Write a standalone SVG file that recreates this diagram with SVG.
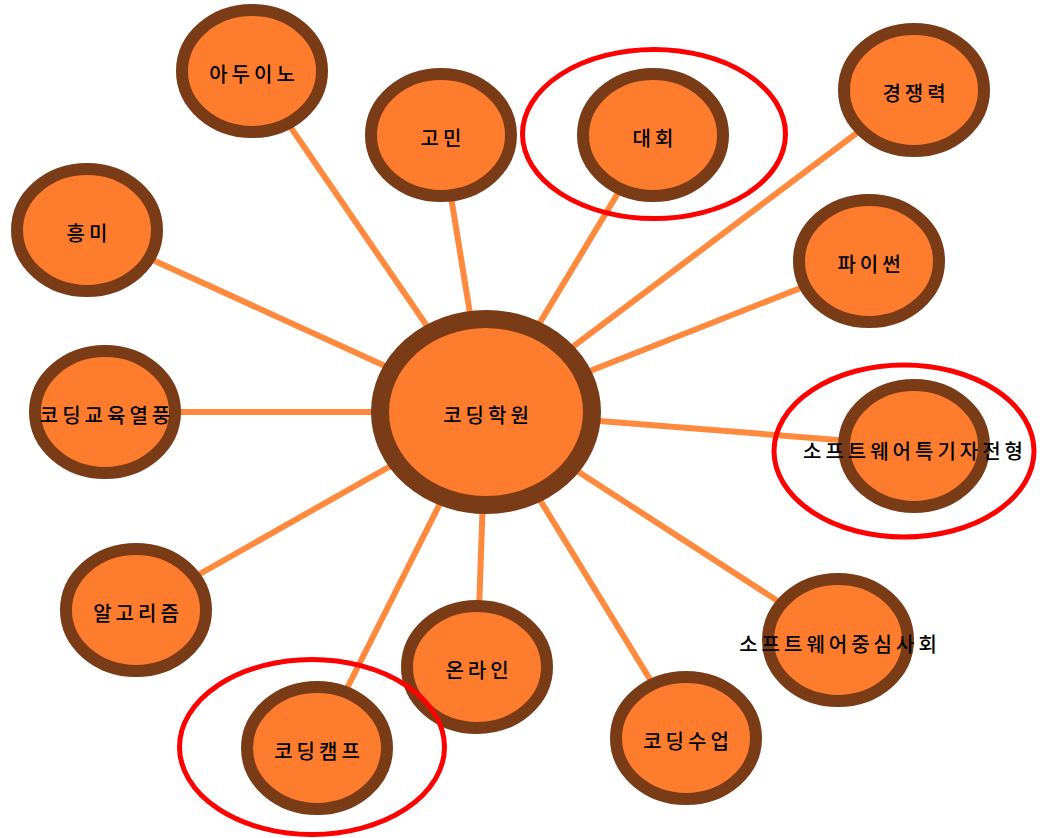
<svg xmlns="http://www.w3.org/2000/svg" width="1040" height="838" viewBox="0 0 1040 838">
<style>
.n{fill:#FD7C2E;stroke:#7A3B17;stroke-width:12}
.c{fill:#FD7C2E;stroke:#7A3B17;stroke-width:18}
.t{font-family:"Noto Sans CJK KR","Noto Sans",sans-serif;font-size:20px;font-weight:500;letter-spacing:4px;fill:#000;text-anchor:middle;dominant-baseline:central}
.e{stroke:#FF8A3D;stroke-width:6;fill:none}
.r{fill:none;stroke:#FF0000;stroke-width:5}
</style>
<rect width="1040" height="838" fill="#fff"/>
<g id="connectors">
<line class="e" x1="486" y1="412" x2="252" y2="71"/>
<line class="e" x1="486" y1="412" x2="441" y2="135"/>
<line class="e" x1="486" y1="412" x2="653" y2="135"/>
<line class="e" x1="486" y1="412" x2="914" y2="90"/>
<line class="e" x1="486" y1="412" x2="87" y2="230"/>
<line class="e" x1="486" y1="412" x2="869" y2="261"/>
<line class="e" x1="486" y1="412" x2="105" y2="412"/>
<line class="e" x1="486" y1="412" x2="914" y2="446"/>
<line class="e" x1="486" y1="412" x2="136" y2="610"/>
<line class="e" x1="486" y1="412" x2="477" y2="667"/>
<line class="e" x1="486" y1="412" x2="838" y2="640"/>
<line class="e" x1="486" y1="412" x2="686" y2="738"/>
<line class="e" x1="486" y1="412" x2="317" y2="748"/>
</g>
<g id="center"><ellipse class="c" cx="486" cy="412" rx="106" ry="93"/><text class="t" x="488" y="414">코딩학원</text></g>
<g id="n1"><ellipse class="n" cx="252" cy="71" rx="70" ry="61"/><text class="t" x="254" y="73">아두이노</text></g>
<g id="n2"><ellipse class="n" cx="441" cy="135" rx="70" ry="61"/><text class="t" x="443" y="137">고민</text></g>
<g id="n3"><ellipse class="n" cx="653" cy="135" rx="70" ry="61"/><text class="t" x="655" y="137">대회</text></g>
<g id="n4"><ellipse class="n" cx="914" cy="90" rx="70" ry="61"/><text class="t" x="916" y="92">경쟁력</text></g>
<g id="n5"><ellipse class="n" cx="87" cy="230" rx="70" ry="61"/><text class="t" x="89" y="232">흥미</text></g>
<g id="n6"><ellipse class="n" cx="869" cy="261" rx="70" ry="61"/><text class="t" x="871" y="263">파이썬</text></g>
<g id="n7"><ellipse class="n" cx="105" cy="412" rx="70" ry="61"/><text class="t" x="107" y="414">코딩교육열풍</text></g>
<g id="n8"><ellipse class="n" cx="914" cy="446" rx="70" ry="61"/><text class="t" x="915" y="450">소프트웨어특기자전형</text></g>
<g id="n9"><ellipse class="n" cx="136" cy="610" rx="70" ry="61"/><text class="t" x="138" y="612">알고리즘</text></g>
<g id="n10"><ellipse class="n" cx="477" cy="667" rx="70" ry="61"/><text class="t" x="479" y="669">온라인</text></g>
<g id="n11"><ellipse class="n" cx="838" cy="640" rx="70" ry="61"/><text class="t" x="840" y="643">소프트웨어중심사회</text></g>
<g id="n12"><ellipse class="n" cx="686" cy="738" rx="70" ry="61"/><text class="t" x="688" y="740">코딩수업</text></g>
<g id="n13"><ellipse class="n" cx="317" cy="748" rx="70" ry="61"/><text class="t" x="319" y="750">코딩캠프</text></g>
<g id="highlights">
<ellipse class="r" cx="654" cy="134" rx="131.5" ry="84.5"/>
<ellipse class="r" cx="904" cy="451" rx="130" ry="86"/>
<ellipse class="r" cx="312" cy="747" rx="132.5" ry="87.5"/>
</g>
</svg>
